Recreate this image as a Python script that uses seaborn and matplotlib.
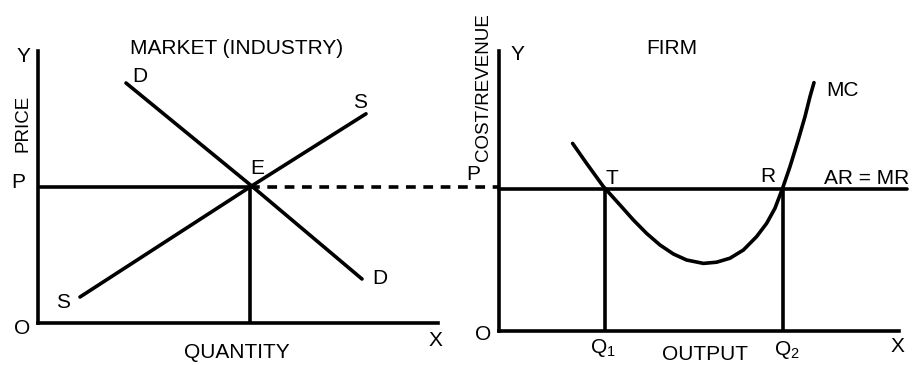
import pandas as pd
import matplotlib
matplotlib.use("Agg")
import matplotlib.pyplot as plt
import seaborn as sns

# Mercado (indústria): unidades arbitrárias
P_MERCADO = 34
Q_MERCADO = 53
demanda_x = [22, 53, 81]
demanda_y = [60, 34.6, 11]
oferta_x = [10.5, 53, 82]
oferta_y = [6.5, 34, 52.3]

# Firma
P_FIRMA = 35.5
Q1 = 26.5
Q2 = 71
mc_x = [18.4, 21.9, 26.1, 30.25, 33.6, 36.9, 40.25, 43.6, 46.9, 51.1, 54.4,
        57.75, 61.1, 64.4, 66.9, 69.0, 70.9, 72.75, 74.8, 76.5, 77.75, 78.75]
mc_y = [46.9, 41.9, 36.1, 31.5, 27.75, 24.4, 21.5, 19.25, 17.75, 16.9, 17.2,
        18.2, 20.25, 23.6, 26.9, 30.7, 35.7, 41.1, 47.75, 53.6, 58.6, 62.1]

LW = 2.6
TAM_TEXTO = 15
TAM_VERTICAL = 13.5

sns.set_theme(style="white")
plt.rcParams['font.family'] = ['Liberation Sans', 'DejaVu Sans']
plt.rcParams['mathtext.fontset'] = 'custom'
plt.rcParams['mathtext.rm'] = 'Liberation Sans'
plt.rcParams['mathtext.it'] = 'Liberation Sans'

fig = plt.figure(figsize=(9.21, 3.65), dpi=100)
W, H = 921, 365
ax1 = fig.add_axes([38 / W, (H - 323) / H, 400 / W, 272 / H])
ax2 = fig.add_axes([499 / W, (H - 331) / H, 400 / W, 280 / H])
ax1.set_xlim(0, 100)
ax1.set_ylim(0, 68)
ax2.set_xlim(0, 100)
ax2.set_ylim(0, 70)

for ax in (ax1, ax2):
    ax.set_facecolor('none')
    sns.despine(ax=ax)
    for s in ('left', 'bottom'):
        ax.spines[s].set_linewidth(LW)
        ax.spines[s].set_color('black')
    ax.set_xticks([])
    ax.set_yticks([])

linha = dict(color='black', lw=LW, solid_joinstyle='round')

# Painel esquerdo
df_d = pd.DataFrame({'q': demanda_x, 'p': demanda_y})
df_s = pd.DataFrame({'q': oferta_x, 'p': oferta_y})
sns.lineplot(data=df_d, x='q', y='p', ax=ax1, **linha)
sns.lineplot(data=df_s, x='q', y='p', ax=ax1, **linha)
ax1.plot([0, Q_MERCADO], [P_MERCADO, P_MERCADO], **linha)
ax1.plot([Q_MERCADO, Q_MERCADO], [0, P_MERCADO], **linha)
ax1.plot([Q_MERCADO, 115.25], [P_MERCADO, P_MERCADO], color='black', lw=LW,
         dashes=(2.7, 2.1), clip_on=False)
ax1.set_xlabel('')
ax1.set_ylabel('')

txt = dict(color='black', fontsize=TAM_TEXTO, ha='center', va='center', clip_on=False)
ax1.text(49.75, 68.5, 'MARKET (INDUSTRY)', **txt)
ax1.text(-3.75, 66.5, 'Y', **txt)
ax1.text(-3.75, 50, 'PRICE', rotation=90, **{**txt, 'fontsize': TAM_VERTICAL})
ax1.text(-5, 35, 'P', **txt)
ax1.text(-4, -1.25, 'O', **txt)
ax1.text(99.25, -4.25, 'X', **txt)
ax1.text(49.75, -7.5, 'QUANTITY', **txt)
ax1.text(25.5, 61.75, 'D', **txt)
ax1.text(80.5, 55.25, 'S', **txt)
ax1.text(54.75, 38.5, 'E', **txt)
ax1.text(85.5, 11.25, 'D', **txt)
ax1.text(6.25, 5.25, 'S', **txt)

# Painel direito
df_mc = pd.DataFrame({'q': mc_x, 'c': mc_y})
sns.lineplot(data=df_mc, x='q', y='c', ax=ax2, sort=False, **linha)
ax2.plot([0, 102], [P_FIRMA, P_FIRMA], clip_on=False, **linha)
ax2.plot([Q1, Q1], [0, P_FIRMA], **linha)
ax2.plot([Q2, Q2], [0, P_FIRMA], **linha)
ax2.set_xlabel('')
ax2.set_ylabel('')

ax2.text(-4, 61, 'COST/REVENUE', rotation=90, **{**txt, 'fontsize': TAM_VERTICAL})
ax2.text(4.5, 69, 'Y', **txt)
ax2.text(43.25, 70.5, 'FIRM', **txt)
ax2.text(85.75, 60.25, 'MC', **txt)
ax2.text(-6.5, 39, 'P', **txt)
ax2.text(28.25, 38.25, 'T', **txt)
ax2.text(67.25, 38.5, 'R', **txt)
ax2.text(92, 38.25, 'AR = MR', **txt)
ax2.text(-4, -1, 'O', **txt)
ax2.text(26, -4.25, 'Q$_1$', **txt)
ax2.text(51.5, -6, 'OUTPUT', **txt)
ax2.text(72, -4.75, 'Q$_2$', **txt)
ax2.text(99.5, -4, 'X', **txt)

fig.savefig('out.png', dpi=100, facecolor='white')
